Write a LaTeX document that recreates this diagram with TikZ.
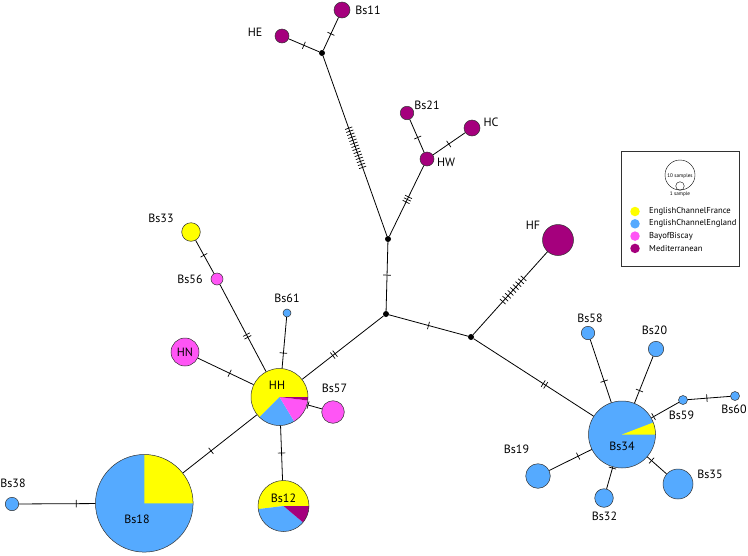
\documentclass[tikz,border=0pt]{standalone}
\usepackage{fontspec}
\setmainfont{PT Sans}
\usetikzlibrary{decorations.markings}
\definecolor{cyel}{RGB}{255,255,0}
\definecolor{cblu}{RGB}{85,170,255}
\definecolor{cmag}{RGB}{255,85,245}
\definecolor{cpur}{RGB}{165,0,125}
\definecolor{outl}{RGB}{50,50,50}
\newcommand\sect[5]{\fill[#1] (#2) -- ++(#3:#5) arc[start angle=#3,end angle=#4,radius=#5] -- cycle;}
\begin{document}
\begin{tikzpicture}[x=1pt,y=1pt,
 hap/.style={circle,draw=outl,line width=0.5pt,inner sep=0pt,minimum size=#1},
 jn/.style={circle,fill=black,inner sep=0pt,minimum size=6pt},
 lbl/.style={font=\fontsize{12}{12}\selectfont,inner sep=0pt},
 conn/.style={line width=0.8pt,black},
 tk/.style n args={3}{postaction={decorate,decoration={markings,mark=at position #1 with {\foreach \k in {1,...,#2}{\draw[line width=0.7pt] ({(\k-(#2+1)/2)*#3pt},-3.8pt) -- ++(0pt,7.6pt);}}}}},
 lgtxt/.style={anchor=west,inner sep=0pt,font=\fontsize{8.6}{9}\selectfont},
 lgdot/.style={circle,inner sep=0pt,minimum size=9.5pt},
]
\useasboundingbox (0,0) rectangle (748,-555);
% top Mediterranean group
\node[hap=16pt,fill=cpur] (Bs11) at (342,-10) {};
\node[hap=14pt,fill=cpur] (HE) at (282,-36) {};
\node[jn] (J1) at (322,-53) {};
\node[hap=13.5pt,fill=cpur] (Bs21) at (407,-113) {};
\node[hap=16pt,fill=cpur] (HC) at (472,-128) {};
\node[hap=14pt,fill=cpur] (HW) at (427,-159) {};
\node[jn] (J2) at (388,-239) {};
\node[jn] (J3) at (386,-314) {};
\node[jn] (J4) at (471,-337) {};
\node[hap=31pt,fill=cpur] (HF) at (558,-240) {};
% Bs34 cluster
\fill[cblu] (622,-434.5) circle (33.5);
\sect{cyel}{622,-434.5}{0}{21}{33.5}
\node[hap=67pt] (Bs34) at (622,-434.5) {};
\node[hap=13.4pt,fill=cblu] (Bs58) at (588,-333) {};
\node[hap=15.4pt,fill=cblu] (Bs20) at (656,-349) {};
\node[hap=9pt,fill=cblu] (Bs59) at (683,-400) {};
\node[hap=9pt,fill=cblu] (Bs60) at (735,-396) {};
\node[hap=24.6pt,fill=cblu] (Bs19) at (538,-476) {};
\node[hap=18.6pt,fill=cblu] (Bs32) at (604,-498) {};
\node[hap=30pt,fill=cblu] (Bs35) at (678,-484) {};
% HH cluster
\sect{cyel}{279.5,-397}{0}{225}{28.5}
\sect{cblu}{279.5,-397}{225}{301}{28.5}
\sect{cmag}{279.5,-397}{301}{353}{28.5}
\sect{cpur}{279.5,-397}{353}{360}{28.5}
\node[hap=57pt] (HH) at (279.5,-397) {};
\node[hap=22.6pt,fill=cmag] (Bs57) at (333,-412) {};
\node[hap=28pt,fill=cmag,lbl] (HN) at (185,-352) {HN};
\node[hap=8pt,fill=cblu] (Bs61) at (287,-313) {};
\node[hap=12pt,fill=cmag] (Bs56) at (217,-279) {};
\node[hap=18.6pt,fill=cyel] (Bs33) at (191,-232) {};
\sect{cyel}{283.5,-506}{0}{187}{25.5}
\sect{cblu}{283.5,-506}{187}{320}{25.5}
\sect{cpur}{283.5,-506}{320}{360}{25.5}
\node[hap=51pt] (Bs12) at (283.5,-506) {};
\fill[cblu] (144.3,-503.3) circle (48.8);
\sect{cyel}{144.3,-503.3}{0}{90}{48.8}
\node[hap=97.6pt] (Bs18) at (144.3,-503.3) {};
\node[hap=13.4pt,fill=cblu] (Bs38) at (12,-504) {};
% connectors
\draw[conn,tk={0.5}{1}{3}] (J1) -- (HE);
\draw[conn,tk={0.5}{1}{3}] (J1) -- (Bs11);
\draw[conn,tk={0.51}{14}{3.2}] (J1) -- (J2);
\draw[conn,tk={0.52}{3}{2.8}] (J2) -- (HW);
\draw[conn,tk={0.45}{1}{3}] (HW) -- (Bs21);
\draw[conn,tk={0.49}{1}{3}] (HW) -- (HC);
\draw[conn,tk={0.48}{1}{3}] (J2) -- (J3);
\draw[conn,tk={0.5}{1}{3}] (J3) -- (J4);
\draw[conn,tk={0.54}{9}{3.9}] (J4) -- (HF);
\draw[conn,tk={0.59}{2}{3}] (J4) -- (Bs34);
\draw[conn,tk={0.61}{2}{3}] (J3) -- (HH);
\draw[conn,tk={0.30}{1}{3}] (HH) -- (Bs61);
\draw[conn,tk={0.41}{2}{3}] (HH) -- (Bs56);
\draw[conn,tk={0.55}{1}{3}] (Bs56) -- (Bs33);
\draw[conn,tk={0.43}{1}{3}] (HH) -- (HN);
\draw[conn,tk={0.06}{1}{3}] (HH) -- (Bs57);
\draw[conn,tk={0.5}{1}{3}] (HH) -- (Bs12);
\draw[conn,tk={0.62}{1}{3}] (HH) -- (Bs18);
\draw[conn,tk={0.25}{1}{3}] (Bs18) -- (Bs38);
\draw[conn,tk={0.34}{1}{3}] (Bs34) -- (Bs58);
\draw[conn,tk={0.27}{1}{3}] (Bs34) -- (Bs20);
\draw[conn,tk={0.08}{1}{3}] (Bs34) -- (Bs59);
\draw[conn,tk={0.45}{1}{3}] (Bs59) -- (Bs60);
\draw[conn,tk={0.22}{1}{3}] (Bs34) -- (Bs35);
\draw[conn,tk={0.05}{1}{3}] (Bs34) -- (Bs32);
\draw[conn,tk={0.32}{1}{3}] (Bs34) -- (Bs19);
% labels
\node[lbl] (lBs11) at (368,-10) {Bs11};
\node[lbl] (lHE) at (255,-32) {HE};
\node[lbl] (lBs21) at (427,-105) {Bs21};
\node[lbl] (lHC) at (491,-122) {HC};
\node[lbl] (lHW) at (446,-162) {HW};
\node[lbl] (lHF) at (533,-225.5) {HF};
\node[lbl] (lBs33) at (161,-218) {Bs33};
\node[lbl] (lBs56) at (190,-279) {Bs56};
\node[lbl] (lBs61) at (287,-298) {Bs61};
\node[lbl] (lHH) at (277,-385.5) {HH};
\node[lbl] (lBs57) at (334.5,-388) {Bs57};
\node[lbl] (lBs12) at (283.5,-498) {Bs12};
\node[lbl] (lBs18) at (137,-519) {Bs18};
\node[lbl] (lBs38) at (13,-483) {Bs38};
\node[lbl] (lBs58) at (590,-318.5) {Bs58};
\node[lbl] (lBs20) at (654.5,-330) {Bs20};
\node[lbl] (lBs59) at (681.5,-415.5) {Bs59};
\node[lbl] (lBs60) at (734,-409.5) {Bs60};
\node[lbl] (lBs34) at (622,-446) {Bs34};
\node[lbl] (lBs19) at (516.5,-449.5) {Bs19};
\node[lbl] (lBs32) at (604.5,-516.5) {Bs32};
\node[lbl] (lBs35) at (710,-474) {Bs35};
% legend
\node[draw=outl,line width=0.5pt,minimum width=118pt,minimum height=115pt,inner sep=0pt] (leg) at (680,-208.5) {};
\node[circle,draw=black,line width=0.4pt,minimum size=30pt,inner sep=0pt] (lgbig) at (680,-175) {};
\node[circle,draw=black,line width=0.4pt,minimum size=8.5pt,inner sep=0pt] (lgsmall) at (680,-186) {};
\node[inner sep=0pt,font=\fontsize{5.2}{6}\selectfont] (lg10) at (680,-176) {10 samples};
\node[inner sep=0pt,font=\fontsize{5.2}{6}\selectfont] (lg1) at (680,-194.5) {1 sample};
\node[lgdot,fill=cyel] (d1) at (635,-211.5) {};
\node[lgdot,fill=cblu] (d2) at (635,-223.8) {};
\node[lgdot,fill=cmag] (d3) at (635,-236.1) {};
\node[lgdot,fill=cpur] (d4) at (635,-248.4) {};
\node[lgtxt] (t1) at (649,-211.5) {EnglishChannelFrance};
\node[lgtxt] (t2) at (649,-223.8) {EnglishChannelEngland};
\node[lgtxt] (t3) at (649,-236.1) {BayofBiscay};
\node[lgtxt] (t4) at (649,-248.4) {Mediterranean};
\end{tikzpicture}
\end{document}
